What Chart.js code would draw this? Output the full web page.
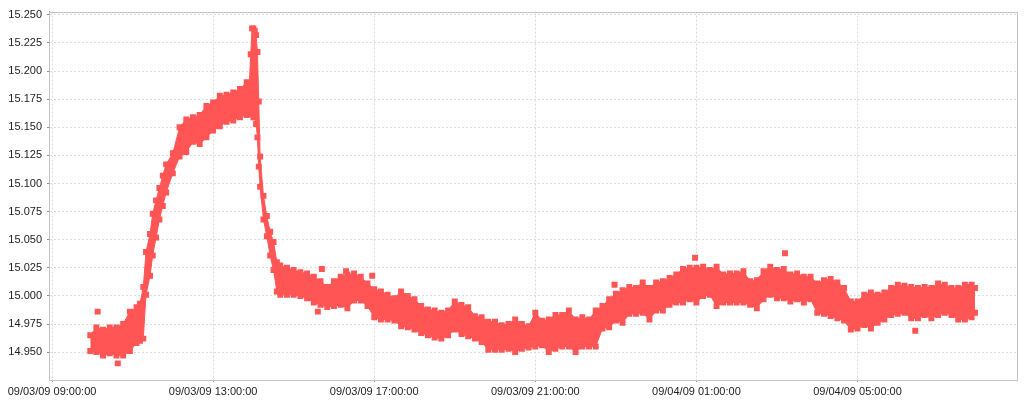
<!DOCTYPE html>
<html>
<head>
<meta charset="utf-8">
<title>Reading 09/03/09 - 09/04/09</title>
<script src="https://cdn.jsdelivr.net/npm/chart.js@4.4.1/dist/chart.umd.min.js"></script>
<style>
    html, body { margin: 0; padding: 0; background: #fff; }
    #wrap { width: 1024px; height: 400px; position: relative; }
</style>
</head>
<body>
<div id="wrap"><canvas id="readingChart"></canvas></div>
<script>
// minutes after 09/03/09 09:00:00
const times = [
    57, 66, 76, 86, 96, 106, 116, 126, 131, 136,
    140, 146, 150, 155, 160, 165, 170, 180, 190, 200,
    210, 220, 230, 240, 250, 260, 270, 280, 290, 294,
    296, 298, 300, 302, 304, 306, 308, 310, 315, 320,
    325, 330, 335, 340, 350, 360, 370, 380, 390, 400,
    410, 420, 430, 440, 450, 460, 470, 480, 490, 500,
    510, 520, 530, 540, 550, 560, 570, 580, 590, 600,
    610, 620, 630, 640, 650, 660, 670, 680, 690, 700,
    710, 720, 730, 740, 750, 760, 770, 780, 790, 800,
    810, 820, 830, 840, 850, 860, 870, 880, 890, 900,
    910, 920, 930, 940, 950, 960, 970, 980, 990, 1000,
    1010, 1020, 1030, 1040, 1050, 1060, 1070, 1080, 1090, 1100,
    1110, 1120, 1130, 1140, 1150, 1160, 1170, 1180, 1190, 1200,
    1210, 1220, 1230, 1240, 1250, 1260, 1270, 1280, 1290, 1300,
    1310, 1320, 1330, 1340, 1350, 1360, 1370, 1375
];
// upper edge of the readings band
const upper = [
    14.965, 14.972, 14.970, 14.972, 14.972, 14.975, 14.986, 14.990, 14.993, 15.008,
    15.039, 15.055, 15.073, 15.085, 15.096, 15.107, 15.117, 15.127, 15.150, 15.157,
    15.159, 15.161, 15.169, 15.172, 15.178, 15.179, 15.181, 15.184, 15.190, 15.189,
    15.215, 15.238, 15.238, 15.236, 15.232, 15.217, 15.173, 15.124, 15.089, 15.071,
    15.057, 15.048, 15.030, 15.027, 15.025, 15.023, 15.021, 15.020, 15.017, 15.013,
    15.008, 15.013, 15.017, 15.019, 15.020, 15.017, 15.011, 15.006, 15.004, 15.001,
    14.998, 15.004, 15.000, 14.997, 14.991, 14.988, 14.987, 14.985, 14.987, 14.995,
    14.992, 14.990, 14.982, 14.981, 14.977, 14.977, 14.974, 14.975, 14.979, 14.975,
    14.973, 14.985, 14.978, 14.979, 14.983, 14.983, 14.987, 14.979, 14.981, 14.979,
    14.987, 14.991, 14.997, 15.002, 15.005, 15.008, 15.007, 15.012, 15.007, 15.012,
    15.013, 15.016, 15.019, 15.024, 15.025, 15.025, 15.026, 15.023, 15.026, 15.019,
    15.020, 15.020, 15.022, 15.013, 15.014, 15.022, 15.026, 15.023, 15.024, 15.019,
    15.020, 15.017, 15.017, 15.011, 15.014, 15.015, 15.012, 15.007, 14.995, 14.995,
    15.001, 15.003, 15.001, 15.003, 15.007, 15.010, 15.009, 15.008, 15.007, 15.008,
    15.007, 15.011, 15.010, 15.007, 15.007, 15.010, 15.010, 15.007
];
// lower edge of the readings band
const lower = [
    14.951, 14.950, 14.947, 14.949, 14.947, 14.947, 14.951, 14.958, 14.960, 14.962,
    15.001, 15.018, 15.036, 15.052, 15.068, 15.080, 15.092, 15.109, 15.124, 15.128,
    15.137, 15.135, 15.141, 15.147, 15.151, 15.155, 15.156, 15.159, 15.161, 15.162,
    15.162, 15.162, 15.159, 15.159, 15.153, 15.141, 15.115, 15.097, 15.068, 15.053,
    15.036, 15.023, 15.004, 15.001, 15.001, 15.001, 15.000, 14.998, 14.994, 14.992,
    14.990, 14.991, 14.992, 14.989, 14.996, 14.996, 14.991, 14.981, 14.979, 14.979,
    14.978, 14.973, 14.972, 14.970, 14.967, 14.965, 14.963, 14.962, 14.965, 14.970,
    14.966, 14.964, 14.962, 14.959, 14.952, 14.952, 14.952, 14.953, 14.950, 14.953,
    14.954, 14.955, 14.956, 14.950, 14.953, 14.955, 14.955, 14.950, 14.955, 14.955,
    14.955, 14.971, 14.972, 14.978, 14.976, 14.984, 14.984, 14.985, 14.979, 14.987,
    14.987, 14.992, 14.994, 14.994, 14.997, 14.994, 15.000, 15.001, 14.991, 14.994,
    14.994, 14.994, 14.994, 14.992, 14.989, 14.997, 15.001, 14.998, 14.998, 14.995,
    14.997, 14.994, 14.997, 14.985, 14.984, 14.982, 14.980, 14.978, 14.970, 14.971,
    14.974, 14.971, 14.976, 14.979, 14.983, 14.984, 14.985, 14.980, 14.980, 14.983,
    14.980, 14.983, 14.985, 14.983, 14.979, 14.979, 14.981, 14.985
];
// stray single readings outside the band
const strayTimes = [68, 98, 396, 402, 438, 477, 838, 958, 1092, 1286];
const strayValues = [14.986, 14.940, 14.986, 15.024, 15.022, 15.018, 15.010, 15.034, 15.038, 14.969];

const xTicks = [0, 240, 480, 720, 960, 1200];
const xTickLabels = ['09/03/09 09:00:00', '09/03/09 13:00:00', '09/03/09 17:00:00', '09/03/09 21:00:00', '09/04/09 01:00:00', '09/04/09 05:00:00'];
const yTicks = [14.950, 14.975, 15.000, 15.025, 15.050, 15.075, 15.100, 15.125, 15.150, 15.175, 15.200, 15.225, 15.250];

const RED = '#FF5555';
const TICK_FONT = { family: 'Liberation Sans', size: 11 };
const GRID = '#dcdcdc';
const AXIS = '#8c8c8c';

const pts = (xs, ys) => xs.map((x, i) => ({ x: x, y: ys[i] }));

// light outline round the plot, like the original frame
const frame = {
    id: 'frame',
    beforeDatasetsDraw(chart) {
        const a = chart.chartArea, ctx = chart.ctx;
        ctx.save();
        ctx.strokeStyle = '#c4c4c4';
        ctx.lineWidth = 1;
        ctx.strokeRect(Math.round(a.left) + 0.5, Math.round(a.top) + 0.5, Math.round(a.right - a.left), Math.round(a.bottom - a.top));
        ctx.restore();
    }
};

new Chart(document.getElementById('readingChart').getContext('2d'), {
    type: 'line',
    data: {
        datasets: [
            { data: pts(times, upper), borderColor: RED, backgroundColor: RED, borderWidth: 1, fill: '+1',
              pointStyle: 'rect', pointRadius: 4.2, pointBorderWidth: 0, pointBackgroundColor: RED, tension: 0 },
            { data: pts(times, lower), borderColor: RED, backgroundColor: RED, borderWidth: 1, fill: false,
              pointStyle: 'rect', pointRadius: 4.2, pointBorderWidth: 0, pointBackgroundColor: RED, tension: 0 },
            { data: pts(strayTimes, strayValues), showLine: false, fill: false,
              pointStyle: 'rect', pointRadius: 4.2, pointBorderWidth: 0, pointBackgroundColor: RED }
        ]
    },
    options: {
        responsive: true,
        maintainAspectRatio: false,
        animation: false,
        events: [],
        layout: { padding: { left: 0, top: 6, right: 7, bottom: 0 } },
        plugins: { legend: { display: false }, tooltip: { enabled: false } },
        scales: {
            x: {
                type: 'linear', min: -4.5, max: 1437.6,
                afterBuildTicks: s => { s.ticks = xTicks.map(v => ({ value: v })); },
                afterFit: s => { s.height = 20; },
                ticks: { autoSkip: false, maxRotation: 0, padding: 3, color: '#222', font: TICK_FONT,
                         callback: v => xTickLabels[xTicks.indexOf(v)] },
                grid: { color: GRID, tickLength: 2, tickColor: AXIS },
                border: { display: true, color: AXIS, dash: [2, 2] }
            },
            y: {
                min: 14.9252, max: 15.2529,
                afterBuildTicks: s => { s.ticks = yTicks.map(v => ({ value: v })); },
                afterFit: s => { s.width = 49; },
                ticks: { padding: 5, color: '#222', font: TICK_FONT, callback: v => v.toFixed(3) },
                grid: { color: GRID, tickLength: 2, tickColor: AXIS },
                border: { display: true, color: AXIS, dash: [2, 2] }
            }
        }
    },
    plugins: [frame]
});
</script>
</body>
</html>
